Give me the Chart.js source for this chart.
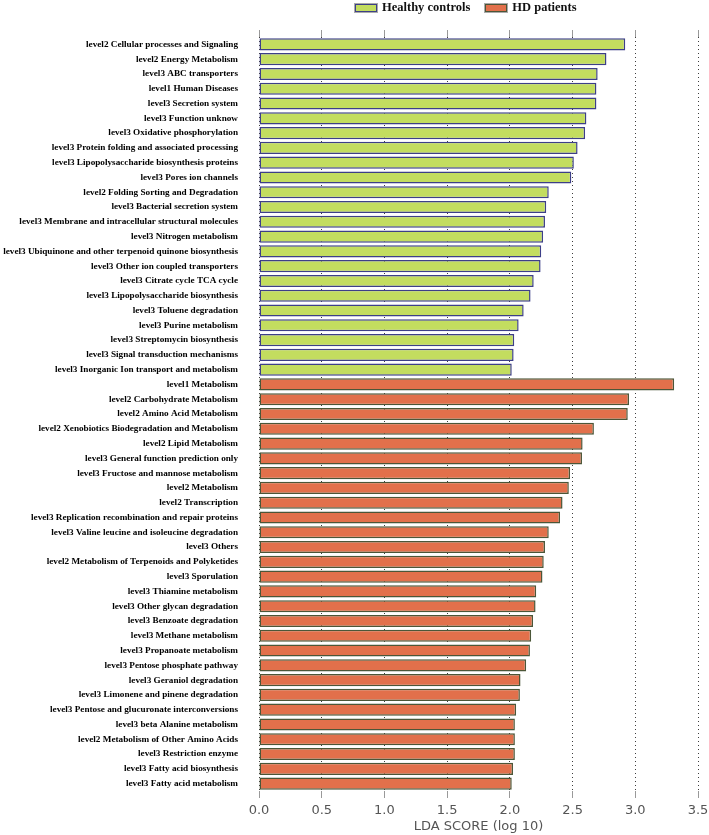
<!DOCTYPE html>
<html>
<head>
<meta charset="utf-8">
<script src="https://cdn.jsdelivr.net/npm/chart.js@4.4.1/dist/chart.umd.min.js"></script>
<style>
  html, body { margin: 0; padding: 0; background: #fff; }
  #wrap { position: relative; width: 709px; height: 835px; }
  #legend { position: absolute; top: 0; left: 355px; display: flex; align-items: center;
    font: bold 12.5px "Liberation Serif", serif; color: #111; white-space: nowrap; }
  #legend .item { display: flex; align-items: center; margin-right: 15px; }
  #legend .box { width: 20px; height: 6px; margin-right: 5px; box-shadow: 0 0 0 1px #aaa; }
</style>
</head>
<body>
<div id="wrap">
  <canvas id="ldaChart" width="709" height="835"></canvas>
  <div id="legend"></div>
</div>
<script>
// Healthy controls (enriched)
const hcLabels = [
  "level2 Cellular processes and Signaling",
  "level2 Energy Metabolism",
  "level3 ABC transporters",
  "level1 Human Diseases",
  "level3 Secretion system",
  "level3 Function unknow",
  "level3 Oxidative phosphorylation",
  "level3 Protein folding and associated processing",
  "level3 Lipopolysaccharide biosynthesis proteins",
  "level3 Pores ion channels",
  "level2 Folding Sorting and Degradation",
  "level3 Bacterial secretion system",
  "level3 Membrane and intracellular structural molecules",
  "level3 Nitrogen metabolism",
  "level3 Ubiquinone and other terpenoid quinone biosynthesis",
  "level3 Other ion coupled transporters",
  "level3 Citrate cycle TCA cycle",
  "level3 Lipopolysaccharide biosynthesis",
  "level3 Toluene degradation",
  "level3 Purine metabolism",
  "level3 Streptomycin biosynthesis",
  "level3 Signal transduction mechanisms",
  "level3 Inorganic Ion transport and metabolism"
];
const hcValues = [2.92, 2.77, 2.70, 2.69, 2.69, 2.61, 2.60, 2.54, 2.51, 2.49, 2.31, 2.29,
  2.28, 2.265, 2.25, 2.245, 2.19, 2.165, 2.11, 2.07, 2.035, 2.03, 2.015];

// HD patients (enriched)
const hdLabels = [
  "level1 Metabolism",
  "level2 Carbohydrate Metabolism",
  "level2 Amino Acid Metabolism",
  "level2 Xenobiotics Biodegradation and Metabolism",
  "level2 Lipid Metabolism",
  "level3 General function prediction only",
  "level3 Fructose and mannose metabolism",
  "level2 Metabolism",
  "level2 Transcription",
  "level3 Replication recombination and repair proteins",
  "level3 Valine leucine and isoleucine degradation",
  "level3 Others",
  "level2 Metabolism of Terpenoids and Polyketides",
  "level3 Sporulation",
  "level3 Thiamine metabolism",
  "level3 Other glycan degradation",
  "level3 Benzoate degradation",
  "level3 Methane metabolism",
  "level3 Propanoate metabolism",
  "level3 Pentose phosphate pathway",
  "level3 Geraniol degradation",
  "level3 Limonene and pinene degradation",
  "level3 Pentose and glucuronate interconversions",
  "level3 beta Alanine metabolism",
  "level2 Metabolism of Other Amino Acids",
  "level3 Restriction enzyme",
  "level3 Fatty acid biosynthesis",
  "level3 Fatty acid metabolism"
];
const hdValues = [3.31, 2.95, 2.94, 2.67, 2.58, 2.575, 2.48, 2.47, 2.42, 2.40, 2.31, 2.28,
  2.27, 2.26, 2.21, 2.205, 2.185, 2.17, 2.16, 2.13, 2.085, 2.08, 2.05, 2.04, 2.04, 2.04,
  2.025, 2.015];

const groupNames = ["Healthy controls", "HD patients"];
const xTicks = [0, 0.5, 1, 1.5, 2, 2.5, 3, 3.5];

const allLabels = hcLabels.concat(hdLabels);
const pad = n => new Array(n).fill(null);

const datasets = [
  {
    label: groupNames[0],
    data: hcValues.concat(pad(hdValues.length)),
    backgroundColor: "#c3dd5f",
    borderColor: "#3d3f88",
    borderWidth: 1.5
  },
  {
    label: groupNames[1],
    data: pad(hcValues.length).concat(hdValues),
    backgroundColor: "#e2704b",
    borderColor: "#4b5638",
    borderWidth: 1.5
  }
];

const chart = new Chart(document.getElementById("ldaChart"), {
  type: "bar",
  data: { labels: allLabels, datasets },
  options: {
    indexAxis: "y",
    responsive: false,
    animation: false,
    events: [],
    grouped: false,
    barPercentage: 0.82,
    categoryPercentage: 1.0,
    borderSkipped: false,
    layout: { padding: { top: 30, left: 0, right: 0, bottom: 0 } },
    plugins: { legend: { display: false }, tooltip: { enabled: false } },
    scales: {
      x: {
        position: "bottom",
        min: 0,
        max: 3.5,
        z: 1,
        afterBuildTicks: s => { s.ticks = xTicks.map(v => ({ value: v })); },
        afterFit: s => { s.height = 44; s.paddingRight = 11; },
        grid: { color: "rgba(40,40,40,0.9)", lineWidth: 1, tickLength: 7, tickColor: "#999" },
        border: { display: false, dash: [1, 3] },
        ticks: {
          padding: 5,
          color: "#555",
          font: { family: "DejaVu Sans", size: 13 },
          callback: v => Number(v).toFixed(1)
        },
        title: {
          display: true,
          text: "LDA SCORE (log 10)",
          color: "#555",
          font: { family: "DejaVu Sans", size: 13 },
          padding: { top: 1, bottom: 1 }
        }
      },
      x2: {
        position: "top",
        min: 0,
        max: 3.5,
        afterBuildTicks: s => { s.ticks = xTicks.map(v => ({ value: v })); },
        afterFit: s => { s.paddingRight = 11; },
        grid: { drawOnChartArea: false, tickLength: 7, tickColor: "#999" },
        border: { display: false },
        ticks: { display: false }
      },
      y: {
        offset: true,
        afterFit: s => { s.width = 259; },
        grid: { display: false, drawTicks: false },
        border: { display: false },
        ticks: {
          padding: 21,
          autoSkip: false,
          color: "#000",
          font: { family: "Liberation Serif", size: 9.2, weight: "bold" }
        }
      }
    }
  }
});

// legend built from the datasets
const legend = document.getElementById("legend");
chart.data.datasets.forEach(ds => {
  const item = document.createElement("div");
  item.className = "item";
  const box = document.createElement("span");
  box.className = "box";
  box.style.background = ds.backgroundColor;
  box.style.border = "1.5px solid " + ds.borderColor;
  const txt = document.createElement("span");
  txt.textContent = ds.label;
  item.appendChild(box);
  item.appendChild(txt);
  legend.appendChild(item);
});
</script>
</body>
</html>
